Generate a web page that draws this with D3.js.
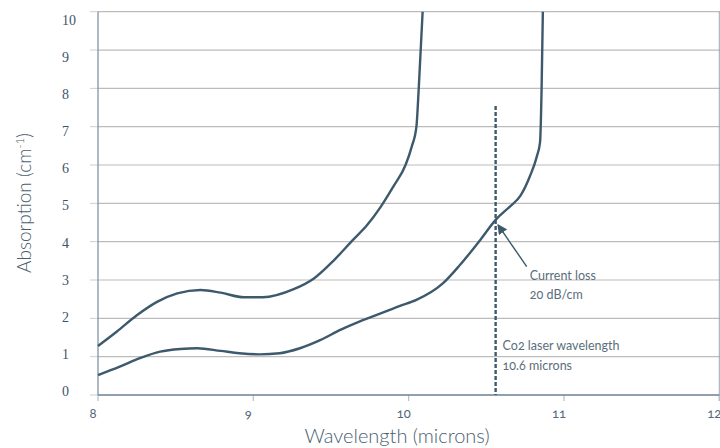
<!doctype html>
<html>
<head>
<meta charset="utf-8">
<title>Absorption vs wavelength</title>
<script src="https://d3js.org/d3.v7.min.js"></script>
<style>
 body { margin: 0; background: #fff; }
 svg { display: block; }
</style>
</head>
<body>
<script>
// valeurs
var xTicks = [8, 9, 10, 11, 12];
var yTicks = [0, 1, 2, 3, 4, 5, 6, 7, 8, 9, 10];

var upperWave = [8.00, 8.12, 8.25, 8.38, 8.51, 8.66, 8.79, 8.94, 9.06, 9.26, 9.39, 9.52, 9.64, 9.73, 9.82, 9.90, 9.98, 10.02, 10.05, 10.065, 10.09];
var upperAbs  = [1.28, 1.65, 2.08, 2.43, 2.65, 2.74, 2.67, 2.55, 2.55, 2.76, 3.04, 3.52, 4.04, 4.42, 4.91, 5.43, 6.00, 6.48, 7.00, 8.00, 10.0];

var lowerWave = [8.00, 8.14, 8.27, 8.40, 8.53, 8.64, 8.79, 8.91, 9.04, 9.17, 9.30, 9.43, 9.56, 9.69, 9.82, 9.94, 10.05, 10.22, 10.33, 10.46, 10.56, 10.65, 10.72, 10.78, 10.825, 10.846, 10.856, 10.864];
var lowerAbs  = [0.52, 0.74, 0.96, 1.13, 1.20, 1.22, 1.15, 1.09, 1.06, 1.09, 1.22, 1.43, 1.70, 1.93, 2.13, 2.32, 2.48, 2.91, 3.39, 4.04, 4.57, 4.91, 5.20, 5.70, 6.22, 6.60, 8.00, 10.0];

var laserWave = 10.56;   // ligne pointillée
var laserTop = 7.54;
var arrowFrom = [10.76, 3.35];
var arrowTo = [10.575, 4.44];

var W = 720, H = 448;
var svg = d3.select("body").append("svg")
    .attr("width", W)
    .attr("height", H);

var x = d3.scaleLinear().domain([8, 12]).range([98, 719.3]);
var y = d3.scaleLinear().domain([0, 10]).range([395, 11.7]);
// les étiquettes de l'axe Y ne tombent pas tout à fait sur la grille dans l'original
var yLab = d3.scaleLinear().domain([0, 10]).range([391, 20]);

var ink = "#3d5a6c";

// grille
svg.append("g").selectAll("line")
    .data(yTicks.filter(function(d) { return d > 0; }))
    .enter().append("line")
    .attr("x1", x(8)).attr("x2", W)
    .attr("y1", function(d) { return y(d); })
    .attr("y2", function(d) { return y(d); })
    .attr("stroke", "#bcbcbc")
    .attr("stroke-width", 1.2);

// bord droit
svg.append("line")
    .attr("x1", x(12)).attr("x2", x(12))
    .attr("y1", y(10)).attr("y2", y(0) + 6)
    .attr("stroke", "#9aa8b2")
    .attr("stroke-width", 1);

// petites graduations Y
svg.append("g").selectAll("line")
    .data(yTicks)
    .enter().append("line")
    .attr("x1", x(8) - 8).attr("x2", x(8))
    .attr("y1", function(d) { return y(d); })
    .attr("y2", function(d) { return y(d); })
    .attr("stroke", "#c9cfd4")
    .attr("stroke-width", 1);

// graduations X
svg.append("g").selectAll("line")
    .data(xTicks)
    .enter().append("line")
    .attr("x1", function(d) { return x(d); })
    .attr("x2", function(d) { return x(d); })
    .attr("y1", y(0)).attr("y2", y(0) + 6)
    .attr("stroke", "#b5c0c8")
    .attr("stroke-width", 1.2);

// axes
svg.append("line")
    .attr("x1", x(8)).attr("x2", x(8))
    .attr("y1", y(10)).attr("y2", y(0))
    .attr("stroke", "#7f95a5")
    .attr("stroke-width", 1.3);

svg.append("line")
    .attr("x1", x(8)).attr("x2", x(12))
    .attr("y1", y(0)).attr("y2", y(0))
    .attr("stroke", "#6d8190")
    .attr("stroke-width", 1.4);

// étiquettes Y
svg.append("g").selectAll("text")
    .data(yTicks)
    .enter().append("text")
    .attr("x", 62)
    .attr("y", function(d) { return yLab(d); })
    .attr("dy", "0.35em")
    .attr("font-family", "'Liberation Serif', 'DejaVu Serif', serif")
    .attr("font-size", 14)
    .attr("fill", "#3f5566")
    .text(function(d) { return d; });

// étiquettes X
svg.append("g").selectAll("text")
    .data(xTicks)
    .enter().append("text")
    .attr("x", function(d) { return x(d) - 5; })
    .attr("y", 413)
    .attr("dy", "0.35em")
    .attr("text-anchor", "middle")
    .attr("font-family", "Lato, 'Open Sans', sans-serif")
    .attr("font-size", 13)
    .attr("fill", "#55677a")
    .style("font-variant-numeric", "oldstyle-nums")
    .text(function(d) { return d; });

// titres
svg.append("text")
    .attr("x", 397)
    .attr("y", 443)
    .attr("text-anchor", "middle")
    .attr("font-family", "Lato, 'Open Sans', sans-serif")
    .attr("font-weight", 300)
    .attr("font-size", 20)
    .attr("fill", "#4a6070")
    .text("Wavelength (microns)");

var yt = svg.append("text")
    .attr("transform", "translate(31,203) rotate(-90)")
    .attr("text-anchor", "middle")
    .attr("font-family", "Lato, 'Open Sans', sans-serif")
    .attr("font-weight", 300)
    .attr("font-size", 19)
    .attr("fill", "#4a6070");
yt.append("tspan").text("Absorption (cm");
yt.append("tspan").attr("font-size", 11).attr("dy", -7).text("-1");
yt.append("tspan").attr("dy", 7).text(")");

// courbes
var line = d3.line()
    .x(function(d) { return x(d[0]); })
    .y(function(d) { return y(d[1]); })
    .curve(d3.curveMonotoneX);

var upper = upperWave.map(function(w, i) { return [w, upperAbs[i]]; });
var lower = lowerWave.map(function(w, i) { return [w, lowerAbs[i]]; });

[upper, lower].forEach(function(s) {
  svg.append("path")
      .datum(s)
      .attr("d", line)
      .attr("fill", "none")
      .attr("stroke", ink)
      .attr("stroke-width", 2.4)
      .attr("stroke-linejoin", "round");
});

// laser CO2
svg.append("line")
    .attr("x1", x(laserWave)).attr("x2", x(laserWave))
    .attr("y1", y(laserTop)).attr("y2", y(0))
    .attr("stroke", ink)
    .attr("stroke-width", 2.4)
    .attr("stroke-dasharray", "4 2");

// flèche
svg.append("defs").append("marker")
    .attr("id", "tete")
    .attr("viewBox", "0 0 10 10")
    .attr("refX", 9).attr("refY", 5)
    .attr("markerWidth", 10).attr("markerHeight", 10)
    .attr("markerUnits", "userSpaceOnUse")
    .attr("orient", "auto")
  .append("path")
    .attr("d", "M0,0 L10,5 L0,10 z")
    .attr("fill", ink);

svg.append("line")
    .attr("x1", x(arrowFrom[0])).attr("y1", y(arrowFrom[1]))
    .attr("x2", x(arrowTo[0])).attr("y2", y(arrowTo[1]))
    .attr("stroke", ink)
    .attr("stroke-width", 1.4)
    .attr("marker-end", "url(#tete)");

// annotations
function note(t, xv, yv) {
  svg.append("text")
      .attr("x", x(xv))
      .attr("y", y(yv))
      .attr("font-family", "Lato, 'Open Sans', sans-serif")
      .attr("font-size", 12.5)
      .attr("fill", "#5a6e7c")
      .style("font-variant-numeric", "oldstyle-nums")
      .text(t);
}
note("Current loss", 10.78, 3.0);
note("20 dB/cm", 10.78, 2.5);
note("Co2 laser wavelength", 10.605, 1.17);
note("10.6 microns", 10.605, 0.66);
</script>
</body>
</html>
